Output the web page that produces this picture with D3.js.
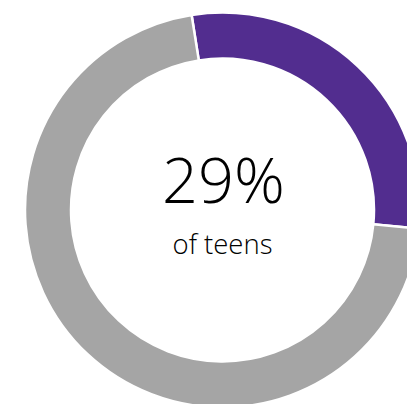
<!DOCTYPE html>
<html>
<head>
<meta charset="utf-8">
<script src="https://cdn.jsdelivr.net/npm/d3@7"></script>
<style>
  html, body { margin: 0; padding: 0; background: #fff; }
  svg { display: block; }
</style>
</head>
<body>
<svg id="chart" width="407" height="404"></svg>
<script>
// Share of teens (percent) and the remainder
const categories = ["Teens", "Other"];
const values = [29, 71];
const colors = ["#522D8F", "#A5A5A5"];
const centerLabel = "29%";
const subLabel = "of teens";

const width = 407, height = 404;
const cx = 222.5, cy = 210;
const outerR = 197.5, innerR = 151.5;

const svg = d3.select("#chart");
const g = svg.append("g").attr("transform", `translate(${cx},${cy})`);

// First slice begins just left of 12 o'clock
const offset = -9 * Math.PI / 180;
const pie = d3.pie().sort(null).value(d => d.value)
  .startAngle(offset).endAngle(offset + 2 * Math.PI);
const arc = d3.arc().innerRadius(innerR).outerRadius(outerR);

const data = categories.map((c, i) => ({ name: c, value: values[i], color: colors[i] }));

g.selectAll("path")
  .data(pie(data))
  .join("path")
  .attr("d", arc)
  .attr("fill", d => d.data.color)
  .attr("stroke", "#fff")
  .attr("stroke-width", 2.5);

g.append("text")
  .attr("x", 1).attr("y", -7)
  .attr("text-anchor", "middle")
  .attr("font-family", "'Open Sans', sans-serif")
  .attr("font-weight", 300)
  .attr("font-size", 63)
  .attr("fill", "#000")
  .text(centerLabel);

g.append("text")
  .attr("x", 0).attr("y", 44)
  .attr("text-anchor", "middle")
  .attr("font-family", "'Open Sans', sans-serif")
  .attr("font-weight", 300)
  .attr("font-size", 27.5)
  .attr("fill", "#000")
  .text(subLabel);
</script>
</body>
</html>
